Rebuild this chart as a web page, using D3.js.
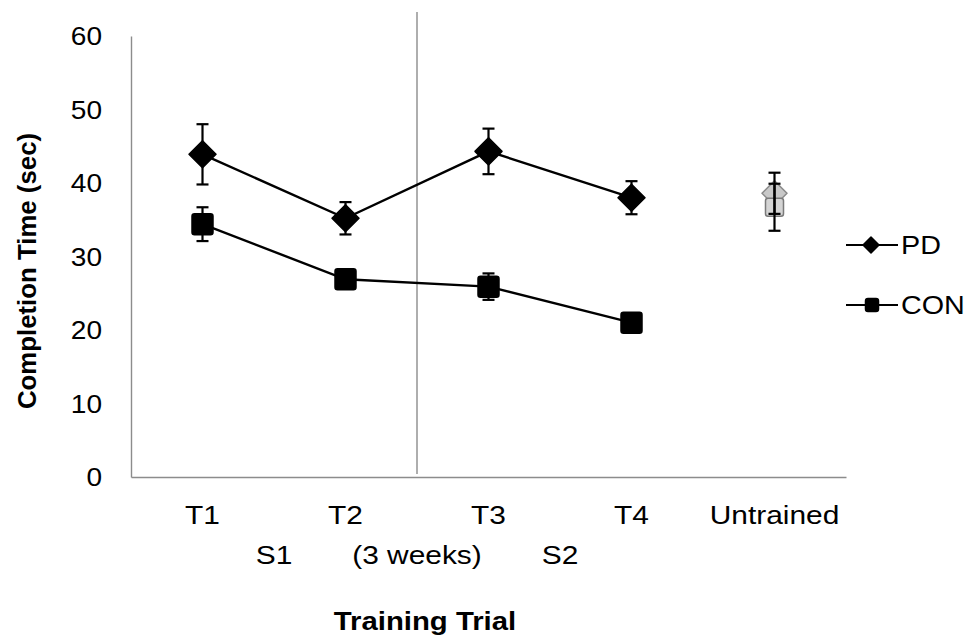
<!DOCTYPE html>
<html>
<head>
<meta charset="utf-8">
<script src="https://cdn.jsdelivr.net/npm/d3@7"></script>
<style>
  html, body { margin: 0; padding: 0; background: #fff; }
  svg { display: block; font-family: "Liberation Sans", Arial, sans-serif; }
</style>
</head>
<body>
<svg id="chart" width="972" height="640"></svg>
<script>
// Training trials and the untrained condition
const categories = ["T1", "T2", "T3", "T4", "Untrained"];
const trainedTrials = ["T1", "T2", "T3", "T4"];
const sessionLabels = ["S1", "(3 weeks)", "S2"];
const yTicks = [0, 10, 20, 30, 40, 50, 60];

// Mean completion time (sec) and error per trial
const pdMeans = [43.9, 35.2, 44.3, 38.0];
const pdErrors = [4.1, 2.2, 3.1, 2.25];
const conMeans = [34.4, 26.9, 25.9, 21.0];
const conErrors = [2.3, 0.8, 1.8, 0.8];

// Untrained task
const untrainedPD = [38.6];
const untrainedPDError = [2.8];
const untrainedCON = [36.7];
const untrainedCONError = [3.2];

const svg = d3.select("#chart");
const axisGray = "#8c8c8c";
const stretch = 1.15;   // text is set slightly wide

const x = d3.scaleBand().domain(categories).range([131, 846]).padding(0);
const cx = d => x(d) + x.bandwidth() / 2;
const y = d3.scaleLinear().domain([0, 60]).range([477, 36]);

// place a horizontally widened label
function wideText(g, tx, ty, str, size, opts = {}) {
  return g.append("text")
    .attr("transform", `translate(${tx},${ty}) scale(${opts.s || stretch},1)`)
    .attr("text-anchor", opts.anchor || "middle")
    .attr("font-size", size)
    .attr("font-weight", opts.bold ? "bold" : null)
    .attr("fill", "#000")
    .text(str);
}

// Y axis
const yAxis = svg.append("g")
  .attr("transform", `translate(${x.range()[0]},0)`)
  .call(d3.axisLeft(y).tickValues(yTicks).tickSize(0).tickSizeOuter(0).tickFormat(""));
yAxis.select(".domain").attr("stroke", axisGray).attr("stroke-width", 1.4);
yTicks.forEach(t => wideText(svg, 102, y(t) + 9, String(t), 26, { anchor: "end", s: 1.08 }));

// X axis
const xAxis = svg.append("g")
  .attr("transform", `translate(0,${y(0)})`)
  .call(d3.axisBottom(x).tickSize(0).tickSizeOuter(0).tickFormat(""));
xAxis.select(".domain").attr("stroke", axisGray).attr("stroke-width", 1.4);
categories.forEach(c => wideText(svg, cx(c), y(0) + 47, c, 26));

// Session labels under the trials
const sessionX = [
  (cx("T1") + cx("T2")) / 2,
  x("T3"),
  (cx("T3") + cx("T4")) / 2
];
sessionLabels.forEach((s, i) => wideText(svg, sessionX[i], y(0) + 87, s, 26));

// Divider between the two sessions
svg.append("line")
  .attr("x1", x("T3")).attr("x2", x("T3"))
  .attr("y1", y.range()[1] - 24).attr("y2", y(0) - 3)
  .attr("stroke", axisGray).attr("stroke-width", 1.4);

// Axis titles
svg.append("text")
  .attr("transform", `translate(36,271) rotate(-90)`)
  .attr("text-anchor", "middle")
  .attr("font-size", 25.8)
  .attr("font-weight", "bold")
  .text("Completion Time (sec)");

wideText(svg, 425, 630, "Training Trial", 25.5, { bold: true });

// Markers
const diamond = (g, px, py, r, fill, stroke) =>
  g.append("path")
    .attr("d", `M${px},${py - r}L${px + r},${py}L${px},${py + r}L${px - r},${py}Z`)
    .attr("fill", fill).attr("stroke", stroke).attr("stroke-width", 1.5)
    .attr("stroke-linejoin", "round");
const square = (g, px, py, s, fill, stroke) =>
  g.append("rect")
    .attr("x", px - s / 2).attr("y", py - s / 2)
    .attr("width", s).attr("height", s)
    .attr("rx", 2.5)
    .attr("fill", fill).attr("stroke", stroke).attr("stroke-width", 1.5);

function errorBar(g, px, mean, err) {
  const cap = 6;
  g.append("line").attr("x1", px).attr("x2", px)
    .attr("y1", y(mean + err)).attr("y2", y(mean - err))
    .attr("stroke", "#000").attr("stroke-width", 2.2);
  [mean + err, mean - err].forEach(v => {
    g.append("line").attr("x1", px - cap).attr("x2", px + cap)
      .attr("y1", y(v)).attr("y2", y(v))
      .attr("stroke", "#000").attr("stroke-width", 2.2);
  });
}

const line = d3.line().x((d, i) => cx(trainedTrials[i])).y(d => y(d));
const plot = svg.append("g");

// CON series
plot.append("path").datum(conMeans).attr("d", line)
  .attr("fill", "none").attr("stroke", "#000").attr("stroke-width", 2.4);
conMeans.forEach((m, i) => errorBar(plot, cx(trainedTrials[i]), m, conErrors[i]));
conMeans.forEach((m, i) => square(plot, cx(trainedTrials[i]), y(m), 21, "#000", "#000"));

// PD series
plot.append("path").datum(pdMeans).attr("d", line)
  .attr("fill", "none").attr("stroke", "#000").attr("stroke-width", 2.4);
pdMeans.forEach((m, i) => errorBar(plot, cx(trainedTrials[i]), m, pdErrors[i]));
pdMeans.forEach((m, i) => diamond(plot, cx(trainedTrials[i]), y(m), 13.5, "#000", "#000"));

// Untrained task (drawn in grey, error bars on top)
const ux = cx("Untrained");
diamond(plot, ux, y(untrainedPD[0]), 12.5, "#c8c8c8", "#8a8a8a");
square(plot, ux, y(untrainedCON[0]), 18, "#d4d4d4", "#7a7a7a");
errorBar(plot, ux, untrainedPD[0], untrainedPDError[0]);
errorBar(plot, ux, untrainedCON[0], untrainedCONError[0]);

// Legend
const legend = svg.append("g");
const legendItems = [
  { name: "PD", shape: "diamond", y: 245 },
  { name: "CON", shape: "square", y: 305 }
];
legendItems.forEach(item => {
  legend.append("line").attr("x1", 846).attr("x2", 898)
    .attr("y1", item.y).attr("y2", item.y)
    .attr("stroke", "#000").attr("stroke-width", 2.2);
  if (item.shape === "diamond") diamond(legend, 871, item.y, 8, "#000", "#000");
  else square(legend, 872, item.y, 13, "#000", "#000");
  wideText(legend, 901, item.y + 9, item.name, 25, { anchor: "start" });
});
</script>
</body>
</html>
